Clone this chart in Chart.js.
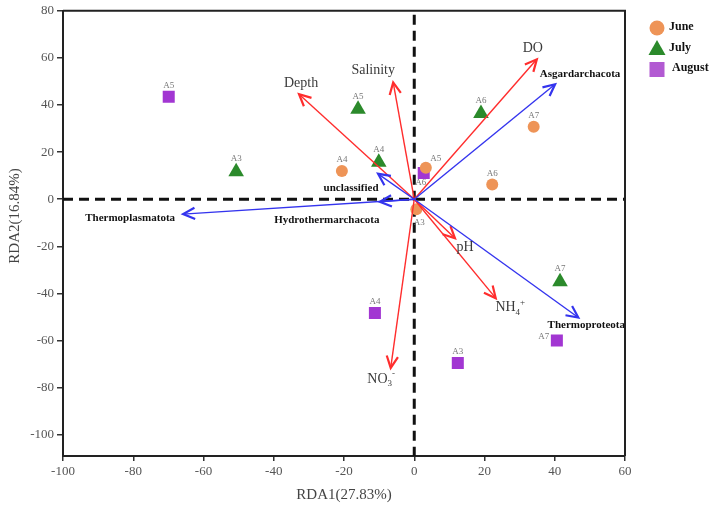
<!DOCTYPE html>
<html>
<head>
<meta charset="utf-8">
<script src="https://cdn.jsdelivr.net/npm/chart.js@4/dist/chart.umd.min.js"></script>
<style>
  html, body { margin: 0; padding: 0; background: #fff; }
  #wrap { width: 709px; height: 507px; }
</style>
</head>
<body>
<div id="wrap"><canvas id="rda"></canvas></div>
<script>
// ---- data ----
const xTicks = [-100, -80, -60, -40, -20, 0, 20, 40, 60];
const yTicks = [-100, -80, -60, -40, -20, 0, 20, 40, 60, 80];

const juneSites = ['A3', 'A4', 'A5', 'A6', 'A7'];
const juneX = [0.6, -20.6, 3.3, 22.2, 34.0];
const juneY = [-4.2, 12.0, 13.4, 6.3, 30.8];

const julySites = ['A3', 'A4', 'A5', 'A6', 'A7'];
const julyX = [-50.7, -10.1, -16.0, 19.0, 41.5];
const julyY = [11.7, 15.7, 38.2, 36.4, -35.0];

const augustSites = ['A3', 'A4', 'A5', 'A6', 'A7'];
const augustX = [12.4, -11.2, -69.9, 2.7, 40.6];
const augustY = [-69.5, -48.3, 43.5, 11.1, -60.0];

// environmental factors (red arrows)
const envNames = ['Depth', 'Salinity', 'DO', 'pH', 'NH4+', 'NO3-'];
const envX = [-32.8, -6.0, 34.9, 11.6, 23.2, -6.7];
const envY = [44.6, 49.6, 59.4, -16.6, -42.0, -71.6];

// archaeal phyla (blue arrows)
const phylumNames = ['Asgardarchacota', 'Thermoproteota', 'unclassified', 'Hydrothermarchacota', 'Thermoplasmatota'];
const phylumX = [40.1, 46.7, -10.3, -9.8, -65.8];
const phylumY = [48.8, -50.2, 10.8, -1.1, -6.3];

// ---- style ----
const COLORS = { june: '#ee9457', july: '#2b8a2b', august: '#a236d2', env: '#ff2d2d', phylum: '#3434ee' };
const SERIF = "'Liberation Serif', 'DejaVu Serif', serif";

// label offsets in px relative to marker / arrow tip
const siteLabelOffset = {
    'June:A3': [3, 14], 'June:A5': [10, -9],
    'August:A6': [-3, 10], 'August:A7': [-13, -4]
};
const envLabelOffset = [[2, -11], [-20, -12], [-4, -11], [10, 9], [14, 9], [-9, 11]];
const phylumLabelOffset = [[25, -10], [8, 8], [-27, 14], [-53, 18], [-53, 4]];

function toPoints(xs, ys) {
    return xs.map((x, i) => ({ x: x, y: ys[i] }));
}

function drawArrow(ctx, x0, y0, x1, y1, color) {
    const ang = Math.atan2(y1 - y0, x1 - x0);
    const head = 13, spread = 0.45;
    ctx.save();
    ctx.strokeStyle = color;
    ctx.lineWidth = 1.4;
    ctx.beginPath();
    ctx.moveTo(x0, y0);
    ctx.lineTo(x1, y1);
    ctx.stroke();
    ctx.lineWidth = 2.2;
    ctx.lineJoin = 'miter';
    ctx.beginPath();
    ctx.moveTo(x1 - head * Math.cos(ang - spread), y1 - head * Math.sin(ang - spread));
    ctx.lineTo(x1, y1);
    ctx.lineTo(x1 - head * Math.cos(ang + spread), y1 - head * Math.sin(ang + spread));
    ctx.stroke();
    ctx.restore();
}

// chemical label with sub / superscript, e.g. NH4+
function drawChem(ctx, name, cx, cy) {
    const base = name.slice(0, 2), sub = name.slice(2, 3), sup = name.slice(3) === '-' ? '-' : '+';
    ctx.font = '14px ' + SERIF;
    const wb = ctx.measureText(base).width;
    ctx.font = '9px ' + SERIF;
    const ws = ctx.measureText(sub).width;
    const left = cx - (wb + ws + 4) / 2;
    ctx.textAlign = 'left';
    ctx.font = '14px ' + SERIF;
    ctx.fillText(base, left, cy);
    ctx.font = '9px ' + SERIF;
    ctx.fillText(sub, left + wb, cy + 5);
    ctx.fillText(sup, left + wb + ws, cy - 5);
}

const rdaPlugin = {
    id: 'rdaPlugin',
    beforeDatasetsDraw(chart) {
        const { ctx, chartArea: a, scales: { x, y } } = chart;
        ctx.save();
        ctx.strokeStyle = '#111';
        ctx.lineWidth = 3;
        ctx.setLineDash([10, 6]);
        ctx.beginPath();
        ctx.moveTo(a.left, y.getPixelForValue(0));
        ctx.lineTo(a.right, y.getPixelForValue(0));
        ctx.moveTo(x.getPixelForValue(0), a.top + 4);
        ctx.lineTo(x.getPixelForValue(0), a.bottom);
        ctx.stroke();
        ctx.restore();
    },
    afterDatasetsDraw(chart) {
        const { ctx, chartArea: a, scales: { x, y } } = chart;
        const ox = x.getPixelForValue(0), oy = y.getPixelForValue(0);

        // arrows
        envNames.forEach((n, i) => {
            drawArrow(ctx, ox, oy, x.getPixelForValue(envX[i]), y.getPixelForValue(envY[i]), COLORS.env);
        });
        phylumNames.forEach((n, i) => {
            drawArrow(ctx, ox, oy, x.getPixelForValue(phylumX[i]), y.getPixelForValue(phylumY[i]), COLORS.phylum);
        });

        ctx.save();
        ctx.textBaseline = 'middle';
        ctx.textAlign = 'center';

        // environmental factor labels
        ctx.fillStyle = '#3a3a3a';
        envNames.forEach((n, i) => {
            const px = x.getPixelForValue(envX[i]) + envLabelOffset[i][0];
            const py = y.getPixelForValue(envY[i]) + envLabelOffset[i][1];
            if (n.startsWith('NH') || n.startsWith('NO')) {
                drawChem(ctx, n, px, py);
                ctx.textAlign = 'center';
            } else {
                ctx.font = '14px ' + SERIF;
                ctx.fillText(n, px, py);
            }
        });

        // phylum labels
        ctx.fillStyle = '#111';
        ctx.font = 'bold 11px ' + SERIF;
        phylumNames.forEach((n, i) => {
            const px = x.getPixelForValue(phylumX[i]) + phylumLabelOffset[i][0];
            const py = y.getPixelForValue(phylumY[i]) + phylumLabelOffset[i][1];
            ctx.fillText(n, px, py);
        });

        // site labels
        ctx.fillStyle = '#777';
        ctx.font = '9px ' + SERIF;
        chart.data.datasets.forEach((ds, di) => {
            const meta = chart.getDatasetMeta(di);
            meta.data.forEach((el, i) => {
                const key = ds.label + ':' + ds.sites[i];
                const off = siteLabelOffset[key] || [0, ds.pointStyle === 'triangle' ? -13 : -11];
                ctx.fillText(ds.sites[i], el.x + off[0], el.y + off[1]);
            });
        });

        // frame (top + right)
        ctx.strokeStyle = '#222';
        ctx.lineWidth = 2;
        ctx.setLineDash([]);
        ctx.beginPath();
        ctx.moveTo(a.left, a.top);
        ctx.lineTo(a.right, a.top);
        ctx.lineTo(a.right, a.bottom);
        ctx.stroke();

        // axis titles
        ctx.fillStyle = '#444';
        ctx.font = '15px ' + SERIF;
        ctx.fillText('RDA1(27.83%)', (a.left + a.right) / 2, 495);
        ctx.save();
        ctx.translate(15, 216);
        ctx.rotate(-Math.PI / 2);
        ctx.fillText('RDA2(16.84%)', 0, 0);
        ctx.restore();

        // legend
        const lx = 657;
        ctx.textAlign = 'left';
        ctx.font = 'bold 12px ' + SERIF;
        ctx.fillStyle = COLORS.june;
        ctx.beginPath();
        ctx.arc(lx, 28, 7.5, 0, Math.PI * 2);
        ctx.fill();
        ctx.fillStyle = COLORS.july;
        ctx.beginPath();
        ctx.moveTo(lx, 40);
        ctx.lineTo(lx + 8.5, 55);
        ctx.lineTo(lx - 8.5, 55);
        ctx.closePath();
        ctx.fill();
        ctx.fillStyle = '#b25ad2';
        ctx.fillRect(lx - 7.5, 62, 15, 15);
        ctx.fillStyle = '#111';
        ctx.fillText('June', 669, 27);
        ctx.fillText('July', 669, 48);
        ctx.fillText('August', 672, 68);
        ctx.restore();
    }
};

new Chart(document.getElementById('rda'), {
    type: 'scatter',
    data: {
        datasets: [
            { label: 'June', sites: juneSites, data: toPoints(juneX, juneY), pointStyle: 'circle', radius: 6,
              backgroundColor: COLORS.june, borderWidth: 0 },
            { label: 'July', sites: julySites, data: toPoints(julyX, julyY), pointStyle: 'triangle', radius: 9,
              backgroundColor: COLORS.july, borderWidth: 0 },
            { label: 'August', sites: augustSites, data: toPoints(augustX, augustY), pointStyle: 'rect', radius: 8.5,
              backgroundColor: COLORS.august, borderWidth: 0 }
        ]
    },
    options: {
        responsive: true,
        maintainAspectRatio: false,
        animation: false,
        events: [],
        layout: { padding: { top: 8, right: 84, left: 0, bottom: 0 } },
        plugins: { legend: { display: false }, tooltip: { enabled: false } },
        scales: {
            x: {
                min: -100, max: 60,
                afterBuildTicks: s => { s.ticks = xTicks.map(v => ({ value: v })); },
                afterFit: s => { s.height = 51; },
                grid: { display: true, drawOnChartArea: false, drawTicks: true, tickLength: 5, color: '#333', lineWidth: 1.5 },
                border: { display: true, color: '#222', width: 2 },
                ticks: { color: '#555', padding: 3, font: { family: SERIF, size: 13 }, maxRotation: 0 }
            },
            y: {
                min: -109, max: 80,
                afterBuildTicks: s => { s.ticks = yTicks.map(v => ({ value: v })); },
                afterFit: s => { s.width = 63; },
                grid: { display: true, drawOnChartArea: false, drawTicks: true, tickLength: 6, color: '#333', lineWidth: 1.5 },
                border: { display: true, color: '#222', width: 2 },
                ticks: { color: '#555', padding: 3, font: { family: SERIF, size: 13 } }
            }
        }
    },
    plugins: [rdaPlugin]
});
</script>
</body>
</html>
